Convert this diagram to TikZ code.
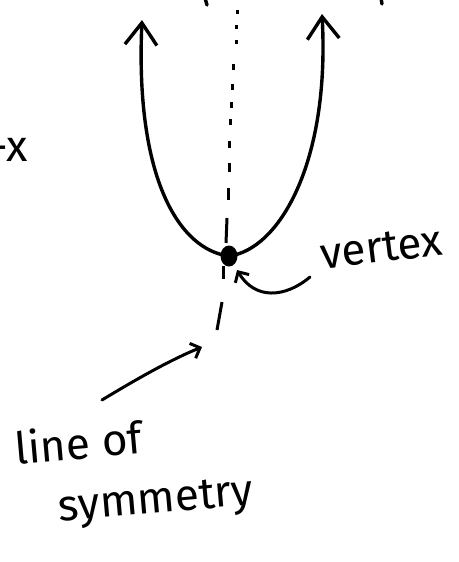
\documentclass[tikz,border=0pt]{standalone}
\usepackage{fontspec}
\setmainfont{Fira Sans}
\usetikzlibrary{arrows.meta,shapes.geometric}
\begin{document}
\begin{tikzpicture}[x=1pt,y=-1pt,
  ink/.style={line width=3.4pt, line cap=round, line join=round},
  thin ink/.style={line width=3pt, line cap=round, line join=round},
  dashseg/.style={line width=3pt},
  bigbarb/.style={-{Straight Barb[length=22pt,width=32pt]}},
  smallbarb/.style={-{Straight Barb[length=8pt,width=16pt]}},
  lbl/.style={inner sep=0pt, font=\fontsize{44}{50}\selectfont}]
\useasboundingbox (0,0) rectangle (458,562);
% vertex dot
\node[ellipse, fill, minimum width=17pt, minimum height=21pt, inner sep=0pt] (v) at (229,256) {};
% parabola
\draw[ink, bigbarb] (v.center) .. controls (180,250) and (135,180) .. (142,20);
\draw[ink, bigbarb] (v.center) .. controls (278,250) and (330,165) .. (322,14);
% line of symmetry (dashes)
\foreach \xa/\ya/\xb/\yb in {237/10/237/14, 236/25/236/29, 236/40/236/44,
  233/64/233/70, 232/84/232/90, 231/102/231/108, 230/119/230/125,
  229/141/229/148, 229/163/229/172, 228/188/228/200, 227/218/226/243,
  223/266/223/279, 222/302/217/330}
  \draw[dashseg] (\xa,\ya) -- (\xb,\yb);
% fragments at the top edge
\draw[ink] (205,-2) -- (207,5);
\draw[ink] (381,-2) -- (382,4);
% labels
\node[lbl, anchor=base east] (mx) at (28,161) {-x};
\node[lbl, anchor=base, rotate=7] (vl) at (383,262) {vertex};
\node[lbl, anchor=base, rotate=5] (ll) at (80,459) {line of};
\node[lbl, anchor=base, rotate=5] (sl) at (157,513) {symmetry};
% label arrows
\coordinate (va) at (310,277);
\coordinate (vt) at (237,270);
\draw[thin ink, smallbarb] (va) .. controls (285,298) and (255,300) .. (vt);
\coordinate (sa) at (102,400);
\coordinate (st) at (202,347);
\draw[thin ink, smallbarb] (sa) .. controls (135,380) and (170,360) .. (st);
\end{tikzpicture}
\end{document}
